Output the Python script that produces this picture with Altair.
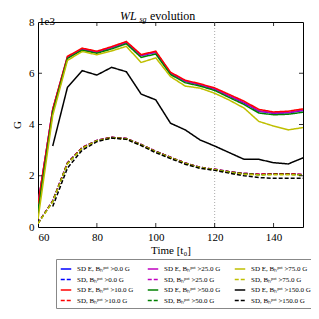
import altair as alt
import pandas as pd

# ---- data (values in units of 1e3 G) ----
times = [60, 65, 70, 75, 80, 85, 90, 95, 100, 105, 110, 115, 120, 125, 130, 135, 140, 145, 150]

sde_0   = [0.88, 4.58, 6.62, 6.94, 6.82, 7.00, 7.20, 6.69, 6.82, 6.00, 5.69, 5.55, 5.38, 5.11, 4.84, 4.52, 4.44, 4.46, 4.55]
sde_10  = [0.90, 4.60, 6.66, 6.98, 6.86, 7.04, 7.24, 6.73, 6.86, 6.04, 5.73, 5.59, 5.43, 5.17, 4.91, 4.59, 4.49, 4.52, 4.61]
sde_25  = [0.88, 4.58, 6.63, 6.95, 6.83, 7.01, 7.21, 6.70, 6.83, 6.01, 5.70, 5.56, 5.39, 5.12, 4.86, 4.53, 4.45, 4.47, 4.56]
sde_50  = [0.60, 4.48, 6.58, 6.90, 6.78, 6.95, 7.15, 6.62, 6.75, 5.95, 5.63, 5.50, 5.33, 5.05, 4.78, 4.45, 4.38, 4.40, 4.48]
sde_75  = [0.30, 4.35, 6.50, 6.85, 6.72, 6.87, 7.05, 6.42, 6.60, 5.87, 5.50, 5.42, 5.22, 4.95, 4.64, 4.12, 3.94, 3.79, 3.88]
sde_150 = [None, 3.16, 5.45, 6.10, 5.93, 6.23, 6.06, 5.19, 4.96, 4.05, 3.79, 3.40, 3.16, 2.90, 2.64, 2.64, 2.51, 2.46, 2.70]

sd_0    = [0.15, 1.02, 2.50, 3.10, 3.38, 3.50, 3.45, 3.22, 2.95, 2.72, 2.50, 2.33, 2.25, 2.16, 2.09, 2.06, 2.08, 2.08, 2.05]
sd_10   = [0.15, 1.02, 2.50, 3.10, 3.38, 3.50, 3.45, 3.22, 2.95, 2.72, 2.50, 2.33, 2.25, 2.16, 2.09, 2.06, 2.08, 2.08, 2.05]
sd_25   = [0.15, 1.02, 2.50, 3.10, 3.38, 3.50, 3.45, 3.22, 2.95, 2.72, 2.50, 2.33, 2.25, 2.16, 2.09, 2.06, 2.08, 2.08, 2.05]
sd_50   = [0.14, 1.00, 2.48, 3.08, 3.37, 3.49, 3.44, 3.21, 2.94, 2.71, 2.49, 2.32, 2.24, 2.15, 2.08, 2.04, 2.06, 2.06, 2.03]
sd_75   = [0.13, 0.98, 2.46, 3.07, 3.36, 3.48, 3.43, 3.20, 2.93, 2.70, 2.48, 2.31, 2.23, 2.13, 2.06, 2.03, 2.04, 2.04, 2.02]
sd_150  = [None, 0.80, 2.30, 3.00, 3.33, 3.47, 3.42, 3.18, 2.90, 2.67, 2.45, 2.29, 2.21, 2.10, 2.00, 1.93, 1.90, 1.90, 1.90]

thresholds = ["0.0", "10.0", "25.0", "50.0", "75.0", "150.0"]
colors = ["#0000ff", "#ff0000", "#bf00bf", "#008000", "#bfbf00", "#000000"]
solid_series = [sde_0, sde_10, sde_25, sde_50, sde_75, sde_150]
dashed_series = [sd_0, sd_10, sd_25, sd_50, sd_75, sd_150]

x_tick_vals = [60, 80, 100, 120, 140]
inner_x_ticks = [80, 100, 120, 140]
y_tick_vals = [0, 2, 4, 6, 8]
inner_y_ticks = [2, 4, 6]
marker_time = [120]

SUPB = "B\u2095\u1d56\u1d52\u1d57"

def label(kind, th):
    if kind == "solid":
        return f"SD E, {SUPB} >{th} G"
    return f"SD, {SUPB} >{th} G"

# legend order (column-major, as the original)
entries = []
for th, col, s, d in zip(thresholds, colors, solid_series, dashed_series):
    entries.append((label("solid", th), col, [1, 0], s))
    entries.append((label("dashed", th), col, [4, 2], d))

legend_domain = [e[0] for e in entries]
legend_colors = [e[1] for e in entries]
legend_dash = [e[2] for e in entries]

# drawing order: red drawn over magenta for the top bundle
draw_idx = [0, 1, 4, 5, 2, 3, 6, 7, 8, 9, 10, 11]

rows = []
for name, col, dash, vals in entries:
    for t, v in zip(times, vals):
        if v is not None:
            rows.append({"series": name, "time": t, "G": v})
df = pd.DataFrame(rows)

FONT = "Liberation Serif"
W, H = 265, 205

xscale = alt.Scale(domain=[60, 150], nice=False, zero=False)
yscale = alt.Scale(domain=[0, 8], nice=False)

def make_legend():
    return alt.Legend(orient="none", legendX=18, legendY=237, columns=3, title=None,
                      symbolType="stroke", symbolSize=110, symbolStrokeWidth=1.5,
                      labelFont=FONT, labelFontSize=7, labelColor="black",
                      rowPadding=1.5, columnPadding=10, labelOffset=5,
                      strokeColor="#888888", padding=4, fillColor="white",
                      labelLimit=200)

color_enc = alt.Color("series:N", scale=alt.Scale(domain=legend_domain, range=legend_colors),
                      legend=make_legend())
dash_enc = alt.StrokeDash("series:N", scale=alt.Scale(domain=legend_domain, range=legend_dash),
                          legend=make_legend())

layers = []

# vertical dotted line at t=120
vline = alt.Chart(pd.DataFrame({"time": marker_time})).mark_rule(
    color="#aaaaaa", strokeDash=[1, 2], strokeWidth=1).encode(
    x=alt.X("time:Q", scale=xscale))
layers.append(vline)

for i in draw_idx:
    name = entries[i][0]
    layer = alt.Chart(df).transform_filter(alt.datum.series == name).mark_line(
        strokeWidth=1.5, clip=True).encode(
        x=alt.X("time:Q", scale=xscale,
                axis=alt.Axis(values=x_tick_vals, title="Time [t\u2080]", tickSize=0, labelPadding=4,
                              grid=False, domain=False, labelFont=FONT, titleFont=FONT,
                              labelFontSize=11, titleFontSize=11, titleFontWeight="normal",
                              labelColor="black", titleColor="black", titlePadding=2)),
        y=alt.Y("G:Q", scale=yscale,
                axis=alt.Axis(values=y_tick_vals, title="G", tickSize=0, labelPadding=4,
                              grid=False, domain=False, labelFont=FONT, titleFont=FONT,
                              labelFontSize=11, titleFontSize=11, titleFontWeight="normal",
                              labelColor="black", titleColor="black", titlePadding=6)),
        color=color_enc,
        strokeDash=dash_enc,
    )
    layers.append(layer)

# inward ticks
xt = pd.DataFrame({"time": inner_x_ticks})
yt = pd.DataFrame({"G": inner_y_ticks})
layers.append(alt.Chart(xt).mark_rule(color="black", strokeWidth=0.8).encode(
    x=alt.X("time:Q", scale=xscale), y=alt.value(H), y2=alt.value(H - 4)))
layers.append(alt.Chart(xt).mark_rule(color="black", strokeWidth=0.8).encode(
    x=alt.X("time:Q", scale=xscale), y=alt.value(0), y2=alt.value(4)))
layers.append(alt.Chart(yt).mark_rule(color="black", strokeWidth=0.8).encode(
    y=alt.Y("G:Q", scale=yscale), x=alt.value(0), x2=alt.value(4)))
layers.append(alt.Chart(yt).mark_rule(color="black", strokeWidth=0.8).encode(
    y=alt.Y("G:Q", scale=yscale), x=alt.value(W), x2=alt.value(W - 4)))

# offset text and title pieces
def txt(s, x, y, size, style="normal"):
    return alt.Chart(pd.DataFrame({"t": [s]})).mark_text(
        align="left", baseline="alphabetic", font=FONT, fontSize=size, fontStyle=style,
        color="black").encode(text="t:N", x=alt.value(x), y=alt.value(y))

layers.append(txt("1e3", 1, 3, 11))
layers.append(txt("WL", 82, -2.5, 12, "italic"))
layers.append(txt("sg", 101.5, 0, 8, "italic"))
layers.append(txt("evolution", 112, -2.5, 12))

chart = alt.layer(*layers).properties(
    width=W, height=H,
    background="white",
    autosize=alt.AutoSizeParams(type="none"),
    padding={"left": 30, "top": 14, "right": 8, "bottom": 84},
).configure_view(stroke="black", strokeWidth=1)

chart.save("out.html", embed_options={"renderer": "svg", "actions": False})
